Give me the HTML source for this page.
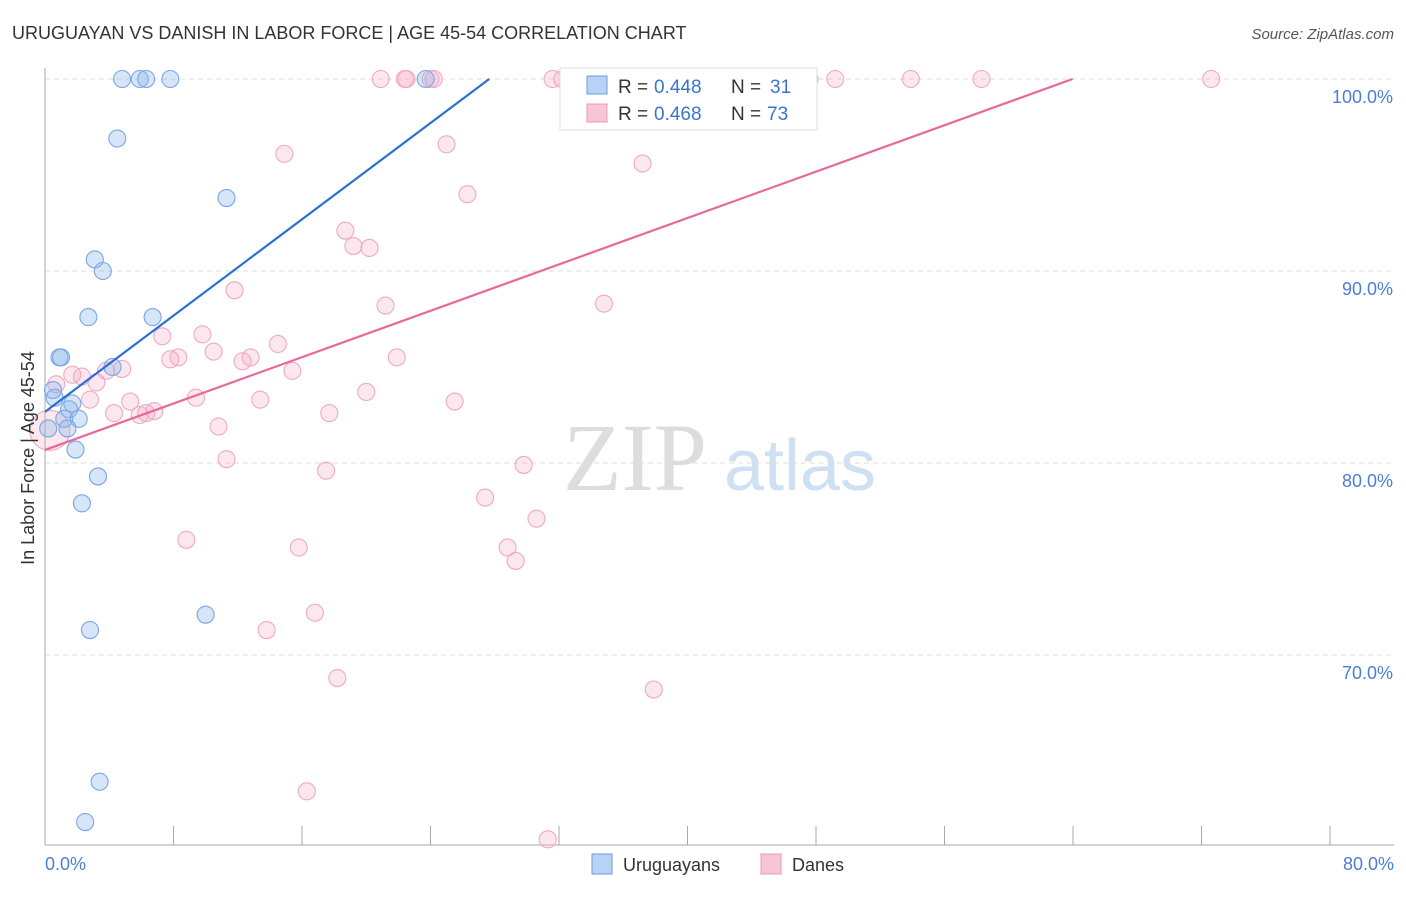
<!DOCTYPE html>
<html><head><meta charset="utf-8"><style>
body{margin:0;background:#fff;font-family:"Liberation Sans",sans-serif}
</style></head><body>
<svg id="chart" width="1406" height="892" xmlns="http://www.w3.org/2000/svg">
<text x="12" y="39" font-size="18" fill="#333">URUGUAYAN VS DANISH IN LABOR FORCE | AGE 45-54 CORRELATION CHART</text>
<text x="1394" y="39" font-size="15" fill="#555" font-style="italic" text-anchor="end">Source: ZipAtlas.com</text>
<text x="635" y="490" font-size="96" fill="#ddd" font-family="Liberation Serif,serif" text-anchor="middle">ZIP</text>
<text x="800" y="490" font-size="72" fill="#cfe0f3" text-anchor="middle">atlas</text>
<g id="grid"></g><g id="axes"></g><g id="pts"></g><g id="lines"></g>
<text transform="translate(34,458) rotate(-90)" font-size="18" fill="#333" text-anchor="middle">In Labor Force | Age 45-54</text>
<text x="45" y="870" font-size="18" fill="#4a7fd4">0.0%</text>
<text x="1394" y="870" font-size="18" fill="#4a7fd4" text-anchor="end">80.0%</text>
<g>
<rect x="560" y="68" width="257" height="62" fill="#fff" stroke="#ddd"/>
<rect x="587" y="76" width="20" height="18" fill="#b8d2f3" stroke="#6a9be0"/>
<text x="618" y="93" font-size="19" fill="#333">R =</text><text x="654" y="93" font-size="19" fill="#3a74d0">0.448</text>
<text x="731" y="93" font-size="19" fill="#333">N =</text><text x="770" y="93" font-size="19" fill="#3a74d0">31</text>
<rect x="587" y="104" width="20" height="18" fill="#f8c6d6" stroke="#e89ab5"/>
<text x="618" y="120" font-size="19" fill="#333">R =</text><text x="654" y="120" font-size="19" fill="#3a74d0">0.468</text>
<text x="731" y="120" font-size="19" fill="#333">N =</text><text x="767" y="120" font-size="19" fill="#3a74d0">73</text>
</g>
<g>
<rect x="592" y="854" width="20" height="20" fill="#b8d2f3" stroke="#6a9be0"/>
<text x="623" y="871" font-size="18" fill="#333">Uruguayans</text>
<rect x="761" y="854" width="20" height="20" fill="#f8c6d6" stroke="#e89ab5"/>
<text x="792" y="871" font-size="18" fill="#333">Danes</text>
</g>
</svg>
<script>
const blueX=[4.8,5.9,6.3,7.8,23.7,4.5,11.3,3.1,3.6,2.7,6.7,0.9,1.0,4.2,0.5,0.6,1.7,1.5,1.2,2.1,1.4,1.9,3.3,2.3,10.0,2.8,3.4,2.5,0.2];
const blueY=[100,100,100,100,100,96.9,93.8,90.6,90.0,87.6,87.6,85.5,85.5,85.0,83.8,83.4,83.1,82.8,82.3,82.3,81.8,80.7,79.3,77.9,72.1,71.3,63.4,61.3,81.8];
const pinkX=[20.9,22.4,22.5,24.0,24.2,31.6,32.2,35.2,39.0,42.9,44.5,47.6,49.2,53.9,58.3,72.6,14.9,25.0,37.2,26.3,18.7,19.2,20.2,11.8,21.2,34.8,7.3,9.8,14.5,10.5,7.8,8.3,12.8,12.3,21.9,4.8,3.8,1.7,2.3,3.2,0.7,15.4,9.4,20.0,13.4,25.5,5.3,2.8,4.3,5.9,6.3,6.8,17.7,10.8,11.3,17.5,29.8,27.4,30.6,8.8,15.8,28.8,29.3,16.8,13.8,18.2,37.9,16.3,31.3,0.3];
const pinkY=[100,100,100,100,100,100,100,100,100,100,100,100,100,100,100,100,96.1,96.6,95.6,94.0,92.1,91.3,91.2,89.0,88.2,88.3,86.6,86.7,86.2,85.8,85.4,85.5,85.5,85.3,85.5,84.9,84.8,84.6,84.5,84.2,84.1,84.8,83.4,83.7,83.3,83.2,83.2,83.3,82.6,82.5,82.6,82.7,82.6,81.9,80.2,79.6,79.9,78.2,77.1,76.0,75.6,75.6,74.9,72.2,71.3,68.8,68.2,62.9,60.4,81.7];
const blueFit=[82.66,0.627], pinkFit=[80.68,0.302];
const yTicks=[100,90,80,70];
const NS="http://www.w3.org/2000/svg";
const X=v=>45+v*1285/80, Y=v=>79+(100-v)*19.2;
function mk(p,t,a){const e=document.createElementNS(NS,t);for(const k in a)e.setAttribute(k,a[k]);p.appendChild(e);return e;}
const grid=document.getElementById('grid'),axes=document.getElementById('axes'),pts=document.getElementById('pts'),lines=document.getElementById('lines');
yTicks.forEach(t=>{const l=mk(grid,'line',{x1:45,x2:1394,y1:Y(t),y2:Y(t),stroke:'#ddd','stroke-dasharray':'5,4'});


const tx=mk(grid,'text',{x:1393,y:Y(t)+24,'font-size':18,fill:'#4a7fd4','text-anchor':'end'});tx.textContent=t.toFixed(1)+'%';

});
const ya=mk(axes,'line',{x1:45,x2:45,y1:68,y2:845,stroke:'#aaa'});


const xa=mk(axes,'line',{x1:45,x2:1394,y1:845,y2:845,stroke:'#aaa'});


for(let i=0;i<=10;i++){const t=mk(axes,'line',{x1:X(i*8),x2:X(i*8),y1:826,y2:845,stroke:'#aaa'});

}
pinkX.forEach((x,i)=>{const c=mk(pts,'circle',{cx:X(x),cy:Y(pinkY[i]),r:i==pinkX.length-1?20:8.5,fill:'rgba(244,170,195,0.28)',stroke:'#eeaac2','stroke-width':1.1});

});
blueX.forEach((x,i)=>{const c=mk(pts,'circle',{cx:X(x),cy:Y(blueY[i]),r:8.5,fill:'rgba(140,180,235,0.35)',stroke:'#7aa6e4','stroke-width':1.1});

});
function fit(f,col,name){const xe=Math.min(80,(100-f[0])/f[1]);const l=mk(lines,'line',{x1:X(0),y1:Y(f[0]),x2:X(xe),y2:Y(f[0]+f[1]*xe),stroke:col,'stroke-width':2.2});

}
fit(blueFit,'#2a6fd6','uruguayan-trend-line');
fit(pinkFit,'#e8689a','dane-trend-line');
</script>
</body></html>
